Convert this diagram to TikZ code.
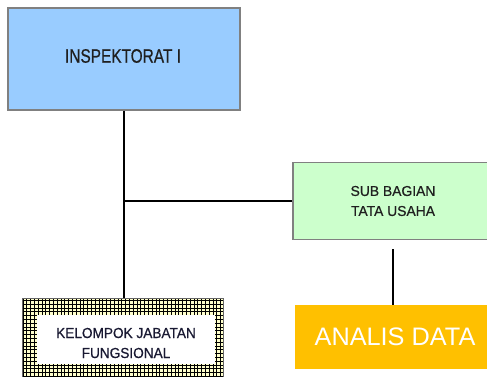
\documentclass[tikz,border=0pt]{standalone}
\usepackage{fontspec}
\setmainfont{Liberation Sans}
\newfontfamily\heavyfont{Liberation Sans}[FakeBold=0.6]
\definecolor{inspblue}{RGB}{153,204,255}
\definecolor{subgreen}{RGB}{204,255,204}
\definecolor{analisorange}{RGB}{255,192,0}
\definecolor{kelcream}{RGB}{255,255,204}
\definecolor{keltext}{RGB}{25,25,50}
\begin{document}
\begin{tikzpicture}[x=1pt,y=-1pt,
  box/.style={draw=black!50,line width=1.2pt,inner sep=0pt,anchor=center,align=center,text=black!88},
  conn/.style={line width=2.2pt,black},
  thinconn/.style={line width=1.3pt,black}]
\useasboundingbox (0,0) rectangle (487,376);
% INSPEKTORAT I
\node[box,fill=inspblue,minimum width=232pt,minimum height=102pt]
  (insp) at (124,59) {};
\node[inner sep=0pt,text=black!88,font=\heavyfont\fontsize{19.5}{21}\selectfont] (insptxt) at (123,56) {\scalebox{0.79}[1]{INSPEKTORAT I}};
% SUB BAGIAN
\node[box,fill=subgreen,minimum width=200pt,minimum height=77pt,font=\heavyfont\fontsize{14.3}{20}\selectfont]
  (sub) at (393,201) {\scalebox{0.97}[1]{SUB BAGIAN}\\\scalebox{0.97}[1]{TATA USAHA}};
% ANALIS DATA
\node[inner sep=0pt,fill=analisorange,minimum width=198pt,minimum height=64pt,text=white,font=\fontsize{25.3}{28}\selectfont]
  (analis) at (394,337) {\hspace*{2pt}ANALIS DATA};
% KELOMPOK
\coordinate (kNW) at (22,298);
\coordinate (kSE) at (223,382);
\fill[kelcream] (kNW) rectangle (kSE);
\begin{scope}
\clip (kNW) rectangle (kSE);
\draw[line width=0.6pt,black,step=3.8pt] (kNW) grid (kSE);
\end{scope}
\draw[black!60,line width=0.8pt] (kNW) rectangle (kSE);
\node[fill=white,inner sep=0pt,minimum width=178pt,minimum height=49pt] (kel) at (126,339.5) {};
\node[inner sep=0pt,align=center,text=keltext,font=\heavyfont\fontsize{14.5}{20}\selectfont]
  (keltxt) at (126,343) {\scalebox{0.94}[1]{KELOMPOK JABATAN}\\\scalebox{0.94}[1]{FUNGSIONAL}};
\coordinate (ktop) at (124,298);
\coordinate (junc) at (124,201);
\coordinate (subtop) at (393,249);
\coordinate (analistop) at (393,305);
% connectors
\draw[conn] (insp.south -| junc) -- (ktop);
\draw[conn] (junc) -- (sub.west |- junc);
\draw[thinconn] (subtop) -- (analistop);
\end{tikzpicture}
\end{document}
